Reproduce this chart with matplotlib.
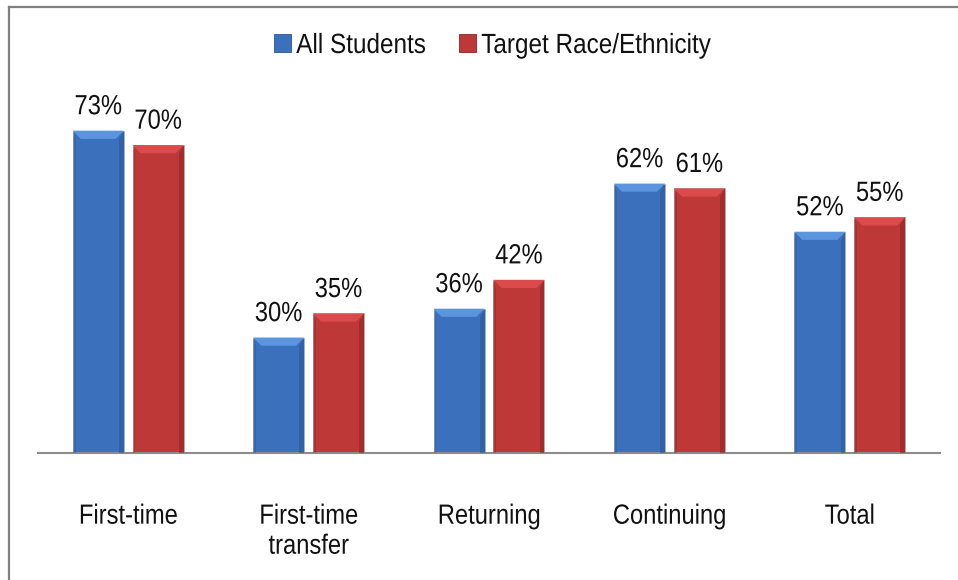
import matplotlib
matplotlib.use('Agg')
import matplotlib.pyplot as plt
from matplotlib.patches import Polygon, Patch
from matplotlib.lines import Line2D
from matplotlib.patheffects import AbstractPathEffect
from matplotlib.path import Path
from matplotlib.transforms import Affine2D
import numpy as np

plt.rcParams['font.family'] = ['Liberation Sans', 'DejaVu Sans']

categories = ['First-time', 'First-time\ntransfer', 'Returning', 'Continuing', 'Total']
all_students = [73, 30, 36, 62, 52]
target_race = [70, 35, 42, 61, 55]
series_names = ['All Students', 'Target Race/Ethnicity']

BLUE = '#3B70BC'
BLUE_TOP = '#5B95DD'
BLUE_DARK = '#2A5595'
RED = '#BE3838'
RED_TOP = '#DC4B4B'
RED_DARK = '#8C2323'

Y_MIN, Y_MAX = 6, 80
WIDTH = 0.283
OFFSET = 0.166
FS = 20
SQUEEZE = 0.855


class Condense(AbstractPathEffect):
    """Squeeze glyphs horizontally (no narrow font installed)."""

    def __init__(self, scale=SQUEEZE, anchor='center'):
        super().__init__()
        self.scale = scale
        self.anchor = anchor

    def draw_path(self, renderer, gc, tpath, affine, rgbFace=None):
        v = tpath.vertices
        if tpath.codes is not None:
            v = v[tpath.codes != Path.CLOSEPOLY]
        if len(v):
            xmin, xmax = v[:, 0].min(), v[:, 0].max()
            cx = 0.0 if self.anchor == 'left' else (xmin + xmax) / 2
            t = Affine2D().translate(-cx, 0).scale(self.scale, 1).translate(cx, 0)
            tpath = t.transform_path(tpath)
        renderer.draw_path(gc, tpath, affine, rgbFace)


def bevel(ax, bars, top_color, dark_color):
    # fake Excel-style bevel: lighter top band, darker side edges
    dy = 1.7
    dx = 0.045
    for b in bars:
        x0 = b.get_x()
        x1 = x0 + b.get_width()
        y1 = b.get_y() + b.get_height()
        ax.add_patch(Polygon([(x0, y1), (x1, y1), (x1 - dx, y1 - dy), (x0 + dx, y1 - dy)],
                             closed=True, facecolor=top_color, edgecolor='none', zorder=3))
        ax.add_patch(Polygon([(x1, y1), (x1, Y_MIN), (x1 - dx * 0.6, Y_MIN), (x1 - dx * 0.6, y1 - dy)],
                             closed=True, facecolor=dark_color, edgecolor='none', alpha=0.55, zorder=3))
        ax.add_patch(Polygon([(x0, y1), (x0, Y_MIN), (x0 + dx * 0.35, Y_MIN), (x0 + dx * 0.35, y1 - dy)],
                             closed=True, facecolor=dark_color, edgecolor='none', alpha=0.35, zorder=3))


fig = plt.figure(figsize=(9.58, 5.8), dpi=100)
ax = fig.add_axes([38 / 958, 1 - 453 / 580, (940 - 38) / 958, (453 - 97) / 580])

x = np.arange(len(categories))
b1 = ax.bar(x - OFFSET, np.array(all_students) - Y_MIN, WIDTH, bottom=Y_MIN,
            color=BLUE, edgecolor='#B0B0B0', linewidth=0.6, zorder=2)
b2 = ax.bar(x + OFFSET, np.array(target_race) - Y_MIN, WIDTH, bottom=Y_MIN,
            color=RED, edgecolor='#B0B0B0', linewidth=0.6, zorder=2)
bevel(ax, b1, BLUE_TOP, BLUE_DARK)
bevel(ax, b2, RED_TOP, RED_DARK)

for bars, vals in ((b1, all_students), (b2, target_race)):
    for b, v in zip(bars, vals):
        ax.annotate(f'{v}%', (b.get_x() + b.get_width() / 2, v),
                    xytext=(0, 7.5), textcoords='offset points',
                    ha='center', va='bottom', fontsize=FS, color='#111111',
                    path_effects=[Condense()])

ax.set_xlim(-0.5, len(categories) - 0.5)
ax.set_ylim(Y_MIN, Y_MAX)
ax.set_yticks([])
ax.set_xticks(x)
ax.set_xticklabels(categories, fontsize=FS, color='#111111', linespacing=1.2)
for lbl in ax.get_xticklabels():
    lbl.set_path_effects([Condense()])
ax.tick_params(axis='x', length=0, pad=36.5)
for s in ('top', 'right', 'left'):
    ax.spines[s].set_visible(False)
ax.spines['bottom'].set_color('#8C8C8C')
ax.spines['bottom'].set_linewidth(1.5)

# legend: one entry each so the squeezed text sits right after its swatch
handles = [Patch(facecolor=BLUE, edgecolor=BLUE_DARK, linewidth=0.6),
           Patch(facecolor=RED, edgecolor=RED_DARK, linewidth=0.6)]
for h, name, xpos in zip(handles, series_names, (274, 459)):
    leg = fig.legend([h], [name], loc='center left', bbox_to_anchor=(xpos / 958, 1 - 46 / 580),
                     frameon=False, fontsize=FS, handlelength=0.6, handleheight=0.6,
                     handletextpad=0.2, borderaxespad=0, borderpad=0)
    for t in leg.get_texts():
        t.set_path_effects([Condense(scale=0.875, anchor='left')])
        t.set_color('#111111')

# outer frame (left and top edges visible)
fig.add_artist(Line2D([9 / 958, 9 / 958], [0, 1 - 7 / 580], transform=fig.transFigure,
                      color='#808080', linewidth=1.6))
fig.add_artist(Line2D([9 / 958, 1], [1 - 7 / 580, 1 - 7 / 580], transform=fig.transFigure,
                      color='#808080', linewidth=1.6))

fig.savefig('out.png', dpi=100)
